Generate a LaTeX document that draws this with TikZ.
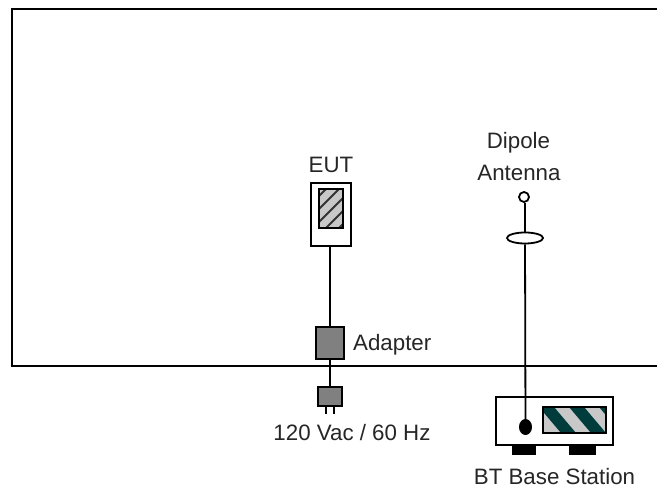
\documentclass[tikz,border=0pt]{standalone}
\usepackage{fontspec}
\setmainfont{Liberation Sans}
\usetikzlibrary{shapes.geometric}
\definecolor{stripedark}{RGB}{0,60,60}
\definecolor{stripelight}{RGB}{200,200,200}
\definecolor{adaptergray}{RGB}{128,128,128}
\tikzset{
	wire/.style={line width=1.8pt},
	lbl/.style={inner sep=0pt,font=\fontsize{22.3}{22.3}\selectfont,text=black!85},
	part/.style={draw,wire,inner sep=0pt,rectangle}
}
\begin{document}
\begin{tikzpicture}[x=1pt,y=-1pt]
	\useasboundingbox (0,0) rectangle (657,489);
	\fill[white] (0,0) rectangle (657,489);

	% room
	\draw[wire] (657,9) -- (12,9) -- (12,366) -- (657,366);

	% EUT side
	\node[lbl] (eutlbl) at (331,164.5) {EUT};
	\node[part,minimum width=40pt,minimum height=63pt] (eut) at (331,214.5) {};
	\begin{scope}
		\clip (319,189) rectangle (343,228);
		\fill[stripelight] (319,189) rectangle (343,228);
		\foreach \i in {0,...,5}
			\draw[black!80,line width=1.8pt] (310,205+13*\i) -- (350,165+13*\i);
	\end{scope}
	\draw[wire] (319,189) rectangle (343,228);
	\node[part,fill=adaptergray,minimum width=28pt,minimum height=32pt] (adapter) at (330,343) {};
	\node[lbl,anchor=west] (adapterlbl) at (353,345) {Adapter};
	\node[part,fill=adaptergray,minimum width=24pt,minimum height=19pt] (plug) at (330,396.5) {};
	\coordinate (prongl) at (326,414);
	\coordinate (prongr) at (334,414);
	\draw[wire] (326,406) -- (prongl);
	\draw[wire] (334,406) -- (prongr);
	\node[lbl] (mainslbl) at (352,432.5) {120 Vac / 60 Hz};
	\draw[wire] (eut.south -| adapter.north) -- (adapter.north);
	\draw[wire] (adapter) -- (plug);

	% antenna side
	\node[lbl] (dipolelbl) at (518.5,143) {Dipole};
	\node[lbl] (antennalbl) at (519,173) {Antenna};
	\node[draw,wire,circle,inner sep=0pt,minimum size=10pt] (tip) at (524,197) {};
	\node[draw,wire,ellipse,fill=white,inner sep=0pt,minimum width=36pt,minimum height=11pt] (ring) at (525,238) {};
	\node[part,minimum width=117pt,minimum height=48pt] (base) at (554.5,421) {};
	\node[fill=black,inner sep=0pt,minimum width=24pt,minimum height=10pt] (footl) at (524,450) {};
	\node[fill=black,inner sep=0pt,minimum width=27pt,minimum height=10pt] (footr) at (582.5,450) {};
	\begin{scope}
		\clip (543,407) rectangle (606,433);
		\fill[stripelight] (543,407) rectangle (606,433);
		\foreach \i in {0,1,2}
			\fill[stripedark] (539+30*\i,407) -- (554+30*\i,407) -- (576+30*\i,433) -- (561+30*\i,433) -- cycle;
	\end{scope}
	\draw[wire] (543,407) rectangle (606,433);
	\node[fill=black,ellipse,inner sep=0pt,minimum width=13pt,minimum height=16pt] (dot) at (525.5,427) {};
	\node[lbl] (baselbl) at (554.5,477) {BT Base Station};
	\draw[wire] (tip.south -| ring.north) -- (ring.north);
	\draw[wire] (ring) -- (dot);
\end{tikzpicture}
\end{document}
